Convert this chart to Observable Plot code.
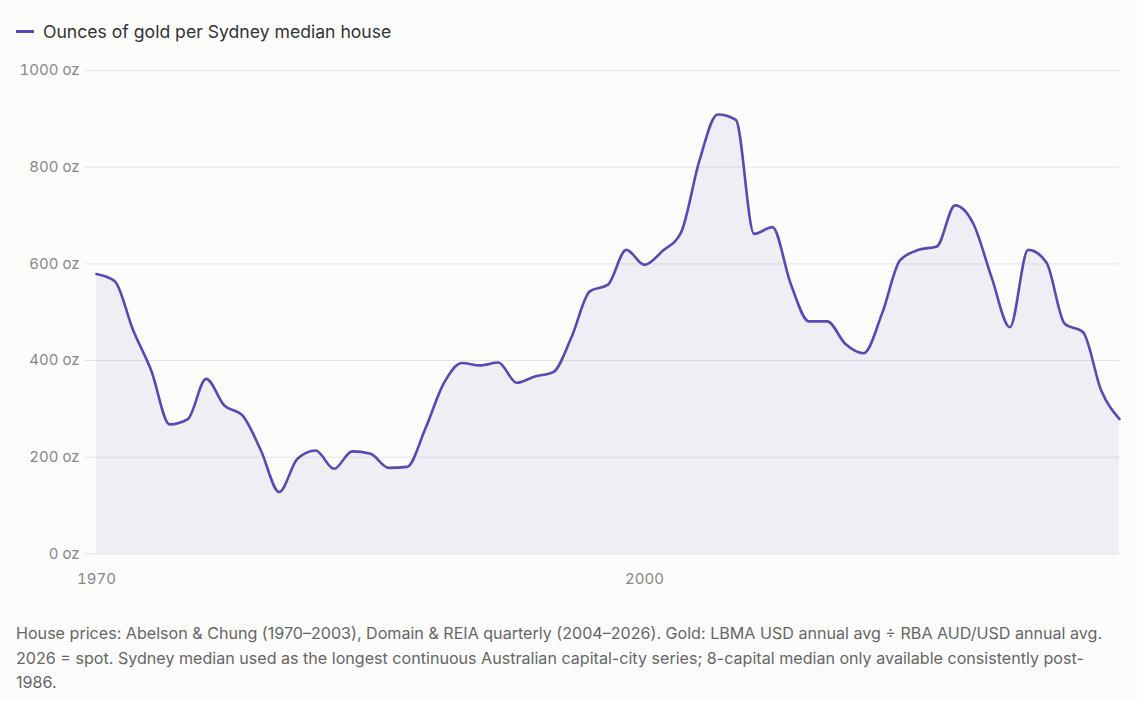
<!DOCTYPE html>
<html>
<head>
<meta charset="utf-8">
<script src="https://cdn.jsdelivr.net/npm/d3@7"></script>
<script src="https://cdn.jsdelivr.net/npm/@observablehq/plot@0.6"></script>
<style>
  html, body { margin: 0; padding: 0; background: #fcfcfa; }
  body { width: 1137px; height: 701px; font-family: Inter, "Noto Sans", sans-serif; overflow: hidden; position: relative; }
  #legend { position: absolute; left: 16px; top: 21px; display: flex; align-items: center; font-size: 17.6px; color: #333; }
  #legend .sw { width: 18px; height: 3px; background: #564ab6; margin-right: 9px; }
  #chart { position: absolute; left: 0; top: 55px; }
  #note { position: absolute; left: 16px; top: 621px; width: 1100px; font-size: 16.1px; line-height: 24.5px; color: #666; }
</style>
</head>
<body>
<div id="legend"><span class="sw"></span><span>Ounces of gold per Sydney median house</span></div>
<div id="chart"></div>
<div id="note">House prices: Abelson &amp; Chung (1970–2003), Domain &amp; REIA quarterly (2004–2026). Gold: LBMA USD annual avg ÷ RBA AUD/USD annual avg. 2026 = spot. Sydney median used as the longest continuous Australian capital-city series; 8-capital median only available consistently post-1986.</div>
<script>
const years = [1970,1971,1972,1973,1974,1975,1976,1977,1978,1979,
  1980,1981,1982,1983,1984,1985,1986,1987,1988,1989,
  1990,1991,1992,1993,1994,1995,1996,1997,1998,1999,
  2000,2001,2002,2003,2004,2005,2006,2007,2008,2009,
  2010,2011,2012,2013,2014,2015,2016,2017,2018,2019,
  2020,2021,2022,2023,2024,2025,2026];
const ounces = [579,564,463,379,268,279,362,307,286,214,
  128,197,214,176,212,207,178,180,259,352,
  395,390,396,354,367,376,448,543,557,629,
  598,627,665,813,909,898,662,676,559,481,
  481,434,415,497,608,629,636,721,683,572,
  469,629,603,476,459,338,279];
const xTicks = [1970, 2000];
const yTicks = [0, 200, 400, 600, 800, 1000];

const data = years.map((y, i) => ({year: y, oz: ounces[i]}));
const color = "#564ab6";

const chart = Plot.plot({
  width: 1137,
  height: 545,
  marginLeft: 96,
  marginRight: 18,
  marginTop: 15,
  marginBottom: 46.6,
  style: {background: "transparent", fontFamily: "Inter, 'Noto Sans', sans-serif", fontSize: "15px", color: "#888"},
  x: {domain: [1970, 2026], label: null},
  y: {domain: [0, 1000], label: null},
  marks: [
    Plot.ruleY(yTicks, {stroke: "#e4e4e8", strokeWidth: 1}),
    Plot.axisY({ticks: yTicks, tickSize: 12, tickPadding: 5, tickFormat: d => `${d} oz`, stroke: "#e4e4e8", strokeOpacity: 1, label: null, fill: "#888"}),
    Plot.axisX({ticks: xTicks, tickSize: 0, tickPadding: 19, tickFormat: d => String(d), label: null, fill: "#888"}),
    Plot.areaY(data, {x: "year", y: "oz", curve: "monotone-x", fill: color, fillOpacity: 0.08}),
    Plot.lineY(data, {x: "year", y: "oz", curve: "monotone-x", stroke: color, strokeWidth: 2.6})
  ]
});
document.getElementById("chart").appendChild(chart);
</script>
</body>
</html>
